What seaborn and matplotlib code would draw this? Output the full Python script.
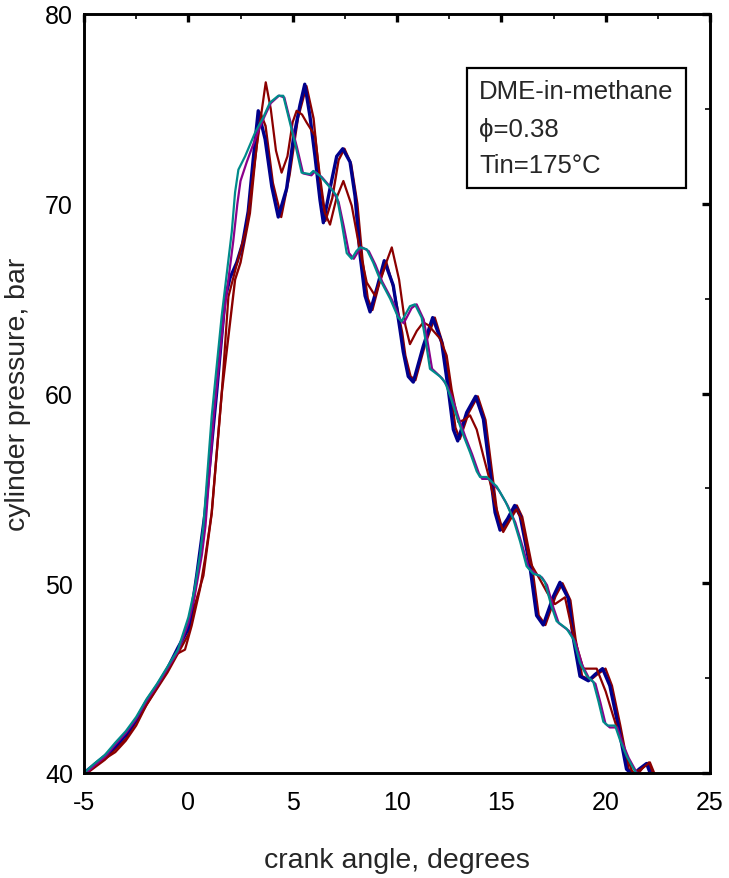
import numpy as np
import pandas as pd
import matplotlib
matplotlib.use("Agg")
import matplotlib.pyplot as plt
import seaborn as sns
from matplotlib.ticker import MultipleLocator
from matplotlib.patches import Rectangle

# ---- data ----
blue_x = [-5, -4.5, -4, -3.5, -3, -2.5, -2, -1.5, -1, -0.5, 0, 0.16, 0.4, 0.8, 1.36, 1.76, 2.0, 2.32, 2.6, 2.87,
          3.11, 3.35, 3.68, 4.0, 4.31, 4.71, 5.03, 5.35, 5.58, 5.83, 6.07, 6.31, 6.47, 6.79, 7.11, 7.4, 7.75,
          7.99, 8.23, 8.47, 8.71, 9.05, 9.39, 9.82, 10.14, 10.3, 10.54, 10.78, 11.26, 11.71, 12.14, 12.46,
          12.7, 12.91, 13.34, 13.77, 14.14, 14.46, 14.7, 14.94, 15.3, 15.64, 15.9, 16.37, 16.69, 17.01,
          17.49, 17.81, 18.21, 18.45, 18.77, 19.17, 19.5, 19.85, 20.2, 20.6, 21.0, 21.3, 21.6, 21.96, 22.2]
blue_y = [40.0, 40.45, 40.9, 41.4, 42.0, 42.8, 43.8, 44.6, 45.5, 46.6, 47.6, 48.6, 50.4, 53.7, 60.1, 65.0, 66.1,
          66.9, 67.9, 69.6, 72.35, 74.9, 73.4, 70.9, 69.3, 70.8, 73.4, 75.2, 76.3, 74.6, 72.5, 70.2, 69.0,
          70.8, 72.5, 72.9, 72.2, 70.4, 67.3, 65.15, 64.3, 65.6, 67.0, 65.7, 63.4, 62.2, 60.9, 60.6, 62.5,
          64.0, 62.7, 60.2, 58.1, 57.5, 59.0, 59.85, 58.65, 55.84, 53.73, 52.8, 53.4, 54.1, 53.56, 50.9,
          48.3, 47.8, 49.3, 50.05, 49.2, 47.1, 45.1, 44.86, 45.2, 45.5, 44.6, 42.5, 40.2, 39.9, 40.2, 40.5, 39.8]

red1_x = [-4.85, -4, -3, -2, -1, -0.5, 0, 0.3, 0.72, 1.12, 1.6, 2.24, 2.5, 2.95, 3.2, 3.45, 3.7, 4.05, 4.45,
          4.85, 5.25, 5.66, 6.0, 6.3, 6.57, 6.9, 7.2, 7.48, 7.8, 8.1, 8.35, 8.6, 8.82, 9.15, 9.49, 9.8,
          10.25, 10.4, 10.65, 10.88, 11.35, 11.81, 12.2, 12.56, 12.8, 13.01, 13.44, 13.87, 14.24, 14.56,
          14.8, 15.04, 15.4, 15.74, 16.0, 16.47, 16.79, 17.11, 17.59, 17.93, 18.31, 18.55, 18.87, 19.27,
          19.6, 19.99, 20.3, 20.7, 21.1, 21.5, 21.8, 22.06, 22.3]
red1_y = [40.0, 40.7, 41.8, 43.6, 45.3, 46.3, 47.3, 48.8, 50.4, 53.7, 60.0, 66.0, 66.9, 69.5, 72.3, 74.8, 74.1,
          71.1, 69.3, 71.5, 74.5, 76.2, 74.5, 71.2, 69.1, 70.3, 72.3, 72.9, 72.1, 70.0, 67.0, 65.0, 64.4,
          65.8, 66.9, 65.7, 63.2, 62.0, 60.9, 60.7, 62.6, 64.0, 62.6, 60.2, 58.2, 57.6, 59.0, 59.85, 58.6,
          55.8, 53.7, 52.8, 53.4, 54.1, 53.5, 50.9, 48.3, 47.8, 49.3, 50.0, 49.1, 47.1, 45.1, 44.9, 45.2,
          45.5, 44.6, 42.5, 40.2, 39.9, 40.3, 40.55, 39.8]

red2_x = [-4.9, -4.5, -4, -3.5, -3, -2.5, -2, -1.5, -1, -0.56, -0.16, 0.16, 0.56, 0.8, 1.12, 1.6, 1.92, 2.32,
          2.8, 3.28, 3.71, 3.95, 4.2, 4.47, 4.75, 5.0, 5.19, 5.45, 5.67, 6.07, 6.3, 6.55, 6.79, 7.1, 7.43,
          7.83, 8.23, 8.55, 8.95, 9.35, 9.75, 10.1, 10.4, 10.62, 10.95, 11.26, 11.5, 11.82, 12.06, 12.38,
          12.62, 12.94, 13.2, 13.5, 13.82, 14.14, 14.38, 14.7, 15.09, 15.4, 15.73, 16.0, 16.37, 16.85,
          17.2, 17.57, 18.05, 18.4, 18.93, 19.57, 20.0, 20.36, 20.8, 21.3, 21.7, 22.12, 22.4]
red2_y = [40.0, 40.35, 40.75, 41.1, 41.7, 42.5, 43.6, 44.5, 45.4, 46.27, 46.5, 47.76, 49.7, 51.3, 53.7, 60.0,
          65.1, 66.8, 68.8, 73.05, 76.4, 75.0, 72.8, 71.64, 72.5, 74.3, 74.9, 74.7, 74.28, 73.58, 71.5,
          69.5, 68.9, 70.3, 71.2, 69.9, 67.5, 65.85, 65.15, 66.5, 67.7, 66.0, 63.6, 62.6, 63.3, 63.75,
          63.6, 63.2, 62.9, 62.0, 60.2, 58.5, 58.6, 58.85, 58.1, 56.7, 55.7, 54.2, 52.7, 53.3, 53.9, 53.3,
          51.1, 50.2, 49.5, 48.9, 49.26, 47.5, 45.5, 45.5, 44.3, 43.0, 41.5, 40.0, 40.2, 40.56, 39.8]

teal_x = [-5, -4.5, -4, -3.5, -3, -2.5, -2, -1.5, -1, -0.5, 0, 0.3, 0.56, 0.72, 1.12, 1.6, 2.08, 2.24, 2.4,
          2.72, 3.2, 3.59, 3.91, 4.31, 4.55, 4.79, 5.11, 5.43, 5.83, 5.99, 6.31, 6.79, 7.11, 7.35, 7.59,
          7.83, 8.05, 8.23, 8.55, 8.86, 9.19, 9.67, 10.06, 10.22, 10.62, 10.86, 11.18, 11.4, 11.58, 12.06,
          12.3, 12.54, 12.86, 13.18, 13.5, 13.82, 13.98, 14.3, 14.78, 15.2, 15.57, 15.9, 16.21, 16.53,
          16.85, 17.09, 17.4, 17.65, 18.13, 18.45, 18.77, 19.1, 19.41, 19.65, 19.89, 20.1, 20.45, 20.7,
          21.0, 21.4, 21.6]
teal_y = [40.0, 40.5, 40.95, 41.6, 42.2, 42.95, 43.9, 44.7, 45.6, 46.5, 48.2, 49.7, 51.5, 53.0, 58.8, 64.1,
          68.5, 70.6, 71.8, 72.5, 73.75, 74.55, 75.33, 75.69, 75.69, 74.63, 73.2, 71.64, 71.56, 71.73,
          71.47, 70.86, 70.42, 69.0, 67.4, 67.1, 67.5, 67.7, 67.6, 66.9, 66.0, 65.0, 64.0, 63.8, 64.6,
          64.7, 64.0, 62.6, 61.3, 60.9, 60.6, 59.9, 58.8, 57.8, 56.9, 55.9, 55.6, 55.6, 55.1, 54.3, 53.4,
          52.2, 50.9, 50.5, 50.4, 50.05, 48.8, 48.0, 47.6, 47.06, 45.8, 45.1, 44.8, 43.8, 42.7, 42.5, 42.5,
          41.7, 40.9, 40.1, 39.8]

purple_x = [-5, -4.5, -4, -3.5, -3, -2.5, -2, -1.5, -1, -0.5, 0, 0.3, 0.65, 0.82, 1.22, 1.7, 2.15, 2.35, 2.5,
            2.8, 3.3, 3.65, 3.95, 4.35, 4.6, 4.85, 5.2, 5.5, 5.9, 6.07, 6.4, 6.87, 7.2, 7.45, 7.7, 7.93,
            8.15, 8.33, 8.65, 8.96, 9.29, 9.77, 10.16, 10.32, 10.7, 10.94, 11.28, 11.5, 11.68, 12.16, 12.4,
            12.64, 12.96, 13.28, 13.6, 13.92, 14.08, 14.4, 14.88, 15.3, 15.67, 16.0, 16.31, 16.63, 16.95,
            17.19, 17.5, 17.75, 18.23, 18.55, 18.87, 19.2, 19.51, 19.75, 19.99, 20.2, 20.55, 20.8, 21.1,
            21.5, 21.7]
purple_y = [39.9, 40.4, 40.85, 41.5, 42.1, 42.85, 43.8, 44.6, 45.5, 46.4, 47.9, 49.3, 51.5, 53.0, 58.8, 64.1,
            68.0, 70.0, 71.2, 72.2, 73.7, 74.6, 75.3, 75.7, 75.6, 74.5, 73.0, 71.6, 71.5, 71.7, 71.4, 70.8,
            70.1, 68.8, 67.4, 67.1, 67.5, 67.7, 67.5, 66.8, 65.9, 64.9, 63.9, 63.7, 64.5, 64.7, 63.9, 62.5,
            61.3, 60.8, 60.4, 59.8, 58.7, 57.7, 56.8, 55.8, 55.5, 55.5, 54.9, 54.1, 53.2, 52.0, 50.8, 50.5,
            50.3, 49.9, 48.7, 47.9, 47.5, 46.9, 45.7, 45.0, 44.7, 43.7, 42.6, 42.4, 42.4, 41.6, 40.8, 40.0,
            39.8]

x_ticks = [-5, 0, 5, 10, 15, 20, 25]
y_ticks = [40, 50, 60, 70, 80]
note_lines = ["DME-in-methane", "\u03d5=0.38", "Tin=175\u00b0C"]

# ---- style ----
sns.set_style("white")
plt.rcParams["font.family"] = ["Liberation Sans", "DejaVu Sans"]
plt.rcParams["axes.unicode_minus"] = False

fig = plt.figure(figsize=(7.29, 8.79), dpi=100)
ax = fig.add_axes([84 / 729, 1 - 774 / 879, 626 / 729, 759 / 879])

series = [
    (red1_x, red1_y, "#8B0000", 1.7),
    (blue_x, blue_y, "#00008B", 2.4),
    (red2_x, red2_y, "#8B0000", 1.6),
    (purple_x, purple_y, "#8B008B", 1.6),
    (teal_x, teal_y, "#008B8B", 1.6),
]
for xs, ys, col, lw in series:
    df = pd.DataFrame({"x": xs, "y": ys})
    sns.lineplot(data=df, x="x", y="y", ax=ax, color=col, lw=lw, sort=False, estimator=None,
                 solid_joinstyle="round", solid_capstyle="round")

ax.set_xlim(-5, 25)
ax.set_ylim(40, 80)
ax.set_xticks(x_ticks)
ax.set_yticks(y_ticks)
ax.set_xticklabels([str(v) for v in x_ticks])
ax.set_yticklabels([str(v) for v in y_ticks])
ax.xaxis.set_minor_locator(MultipleLocator(2.5))
ax.yaxis.set_minor_locator(MultipleLocator(5))

for sp in ax.spines.values():
    sp.set_visible(True)
    sp.set_linewidth(2.1)
    sp.set_color("black")

ax.tick_params(which="both", direction="in", top=True, right=True, colors="black")
ax.tick_params(which="major", length=6, width=2.4, labelsize=18)
ax.tick_params(which="minor", length=3.5, width=1.2)
ax.tick_params(axis="x", which="major", pad=12)
ax.tick_params(axis="y", which="major", pad=8)

ax.set_xlabel("crank angle, degrees", fontsize=20.5)
ax.set_ylabel("cylinder pressure, bar", fontsize=20.5)
ax.xaxis.set_label_coords(0.5, -0.098)
ax.yaxis.set_label_coords(-0.085, 0.5)

# annotation box
ax.add_patch(Rectangle((0.6118, 0.7708), 0.3499, 0.1581, transform=ax.transAxes,
                       fc="white", ec="black", lw=1.6, zorder=5))
for txt, yy in zip(note_lines, [0.8893, 0.8393, 0.7918]):
    ax.text(0.631, yy, txt, transform=ax.transAxes, fontsize=18.5, ha="left", va="baseline", zorder=6)

ax.grid(False)
fig.savefig("out.png", dpi=100)
